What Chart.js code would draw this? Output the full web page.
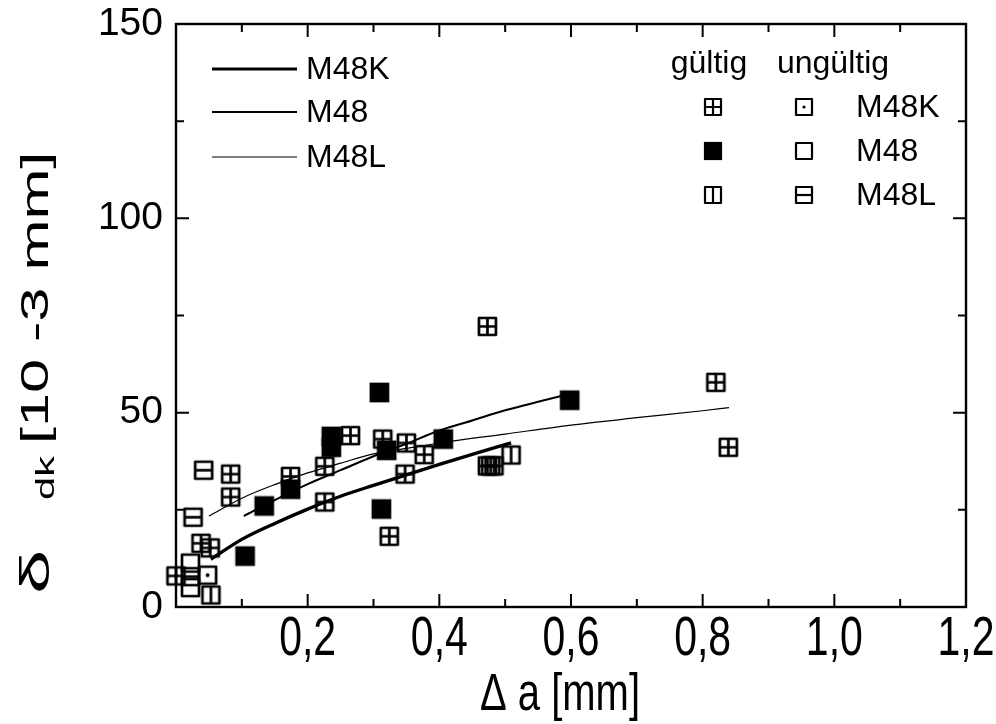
<!DOCTYPE html>
<html><head><meta charset="utf-8">
<script src="https://cdn.jsdelivr.net/npm/chart.js@4/dist/chart.umd.min.js"></script>
<style>html,body{margin:0;padding:0;background:#fff}#wrap{width:996px;height:724px}</style>
</head><body><div id="wrap"><canvas id="c" width="996" height="724"></canvas></div>
<script>
// ---- data ----
const xTickValues = [0.2, 0.4, 0.6, 0.8, 1.0, 1.2];
const xTickLabels = ["0,2", "0,4", "0,6", "0,8", "1,0", "1,2"];
const xMinorValues = [0.1, 0.3, 0.5, 0.7, 0.9, 1.1];
const yTickValues = [0, 50, 100, 150];
const yTickLabels = ["0", "50", "100", "150"];
const yMinorValues = [25, 75, 125];

// fitted curves
const curveM48K_x = [0.053, 0.10, 0.15, 0.20, 0.25, 0.30, 0.35, 0.40, 0.45, 0.509];
const curveM48K_y = [12.3, 17.4, 21.5, 25.2, 28.5, 31.3, 34.0, 36.7, 39.3, 42.2];
const curveM48_x = [0.103, 0.15, 0.20, 0.25, 0.30, 0.35, 0.40, 0.45, 0.50, 0.55, 0.598];
const curveM48_y = [23.4, 27.5, 31.6, 35.2, 38.8, 42.0, 45.4, 48.0, 50.6, 52.8, 54.8];
const curveM48L_x = [0.05, 0.10, 0.15, 0.20, 0.25, 0.30, 0.35, 0.40, 0.50, 0.60, 0.70, 0.80, 0.84];
const curveM48L_y = [23.4, 28.0, 31.5, 34.5, 37.0, 39.4, 40.8, 42.2, 44.5, 46.8, 48.7, 50.5, 51.3];

// measured points
const m48kValidX = [0.083, 0.083, 0.0, 0.038, 0.052, 0.174, 0.226, 0.226, 0.265, 0.314, 0.350, 0.377, 0.348, 0.324, 0.473, 0.473, 0.478, 0.483, 0.820, 0.839];
const m48kValidY = [34.2, 28.3, 8.0, 16.4, 15.2, 33.6, 36.2, 27.0, 44.1, 43.2, 42.2, 39.2, 34.2, 18.2, 72.2, 36.3, 36.3, 36.3, 57.8, 41.1];
const m48ValidX = [0.105, 0.134, 0.174, 0.236, 0.236, 0.309, 0.320, 0.312, 0.406, 0.598];
const m48ValidY = [13.1, 26.0, 30.3, 43.9, 41.1, 55.2, 40.3, 25.2, 43.2, 53.2];
const m48lValidX = [0.053, 0.509];
const m48lValidY = [3.1, 39.1];
const m48kInvalidX = [0.048];
const m48kInvalidY = [8.2];
const m48InvalidX = [0.022, 0.022];
const m48InvalidY = [11.3, 5.0];
const m48lInvalidX = [0.042, 0.026, 0.022];
const m48lInvalidY = [35.2, 23.1, 7.8];

const FONT = "'Liberation Sans', Arial, sans-serif";

// ---- marker images ----
function marker(type, s, lw) {
  const pad = Math.ceil(lw) + 1;
  const c = document.createElement('canvas');
  c.width = c.height = s + 2 * pad;
  const g = c.getContext('2d');
  g.strokeStyle = '#000'; g.fillStyle = '#000'; g.lineWidth = lw;
  g.lineJoin = 'round';
  const o = pad, m = pad + s / 2;
  if (type === 'filled') { g.fillRect(o - lw/2, o - lw/2, s + lw, s + lw); return c; }
  g.strokeRect(o, o, s, s);
  g.beginPath();
  if (type === 'cross' || type === 'vert') { g.moveTo(m, o); g.lineTo(m, o + s); }
  if (type === 'cross' || type === 'horiz') { g.moveTo(o, m); g.lineTo(o + s, m); }
  g.stroke();
  if (type === 'dot') { g.beginPath(); g.arc(m, m, lw * 0.7, 0, Math.PI * 2); g.fill(); }
  return c;
}
const MS = 17, MLW = 2.7;
const imgs = {
  cross: marker('cross', MS, MLW), filled: marker('filled', MS, MLW), vert: marker('vert', MS, MLW),
  dot: marker('dot', MS, MLW), empty: marker('empty', MS, MLW), horiz: marker('horiz', MS, MLW)
};
const LS = 16, LLW = 2.2;
const limgs = {
  cross: marker('cross', LS, LLW), filled: marker('filled', LS, LLW), vert: marker('vert', LS, LLW),
  dot: marker('dot', LS, LLW), empty: marker('empty', LS, LLW), horiz: marker('horiz', LS, LLW)
};

const zip = (xs, ys) => xs.map((x, i) => ({ x, y: ys[i] }));

function lineDs(xs, ys, w) {
  return { type: 'line', data: zip(xs, ys), borderColor: '#000', borderWidth: w, pointRadius: 0,
    fill: false, cubicInterpolationMode: 'monotone', clip: false, order: 2 };
}
function ptDs(xs, ys, img) {
  return { type: 'scatter', data: zip(xs, ys), pointStyle: img, pointRadius: 10, clip: false, order: 1,
    borderColor: '#000', backgroundColor: '#000' };
}

// ---- plugins ----
const framePlugin = {
  id: 'frame',
  afterDraw(chart) {
    const { ctx, chartArea: a, scales: { x, y } } = chart;
    ctx.save();
    ctx.strokeStyle = '#000'; ctx.lineWidth = 2.4; ctx.lineCap = 'square';
    ctx.strokeRect(a.left, a.top, a.right - a.left, a.bottom - a.top);
    ctx.lineWidth = 2;
    ctx.beginPath();
    const MAJ = 12, MIN = 7;
    xTickValues.concat([0]).forEach(v => { const p = x.getPixelForValue(v);
      ctx.moveTo(p, a.bottom); ctx.lineTo(p, a.bottom - MAJ); ctx.moveTo(p, a.top); ctx.lineTo(p, a.top + MAJ); });
    xMinorValues.forEach(v => { const p = x.getPixelForValue(v);
      ctx.moveTo(p, a.bottom); ctx.lineTo(p, a.bottom - MIN); ctx.moveTo(p, a.top); ctx.lineTo(p, a.top + MIN); });
    yTickValues.forEach(v => { const p = y.getPixelForValue(v);
      ctx.moveTo(a.left, p); ctx.lineTo(a.left + MAJ, p); ctx.moveTo(a.right, p); ctx.lineTo(a.right - MAJ, p); });
    yMinorValues.forEach(v => { const p = y.getPixelForValue(v);
      ctx.moveTo(a.left, p); ctx.lineTo(a.left + MIN, p); ctx.moveTo(a.right, p); ctx.lineTo(a.right - MIN, p); });
    ctx.stroke();

    // x tick labels (vertically stretched as in the original)
    ctx.fillStyle = '#000';
    ctx.font = '41px ' + FONT;
    ctx.textAlign = 'center'; ctx.textBaseline = 'middle';
    xTickValues.forEach((v, i) => {
      const p = x.getPixelForValue(v);
      ctx.save(); ctx.translate(p, 640); ctx.scale(1, 1.35); ctx.fillText(xTickLabels[i], 0, 0); ctx.restore();
    });
    // x title
    ctx.save(); ctx.translate(560, 696); ctx.scale(1, 1.3);
    ctx.font = '40px ' + FONT; ctx.fillText('\u0394 a [mm]', 0, 0); ctx.restore();

    // y title
    ctx.save(); ctx.translate(38, 594); ctx.rotate(-Math.PI / 2);
    ctx.textAlign = 'left'; ctx.textBaseline = 'middle';
    ctx.save(); ctx.scale(2.0, 1); ctx.font = '40px ' + FONT; ctx.fillText('\u03B4', 0, 0); ctx.restore();
    ctx.save(); ctx.translate(94, 0); ctx.scale(1.6, 1); ctx.font = '26px ' + FONT; ctx.fillText('dk', 0, 9); ctx.restore();
    ctx.save(); ctx.translate(150, 0); ctx.scale(1.61, 1); ctx.font = '38px ' + FONT; ctx.fillText('[10 -3 mm]', 0, 0); ctx.restore();
    ctx.restore();

    // left legend (lines)
    const LL = [['M48K', 69, 3.2], ['M48', 112, 2], ['M48L', 157, 1.2]];
    ctx.font = '32px ' + FONT; ctx.textAlign = 'left'; ctx.textBaseline = 'middle';
    LL.forEach(([t, yy, lw]) => {
      ctx.lineWidth = lw; ctx.lineCap = 'butt';
      ctx.beginPath(); ctx.moveTo(212, yy); ctx.lineTo(297, yy); ctx.stroke();
      ctx.fillText(t, 306, yy + 1);
    });
    // right legend (markers)
    ctx.textAlign = 'center';
    ctx.fillText('g\u00FCltig', 709, 64);
    ctx.fillText('ung\u00FCltig', 833, 64);
    ctx.textAlign = 'left';
    const RL = [['M48K', 107, 'cross', 'dot'], ['M48', 151, 'filled', 'empty'], ['M48L', 195, 'vert', 'horiz']];
    RL.forEach(([t, yy, a1, a2]) => {
      const i1 = limgs[a1], i2 = limgs[a2];
      ctx.drawImage(i1, 713 - i1.width / 2, yy - i1.height / 2);
      ctx.drawImage(i2, 804 - i2.width / 2, yy - i2.height / 2);
      ctx.fillText(t, 856, yy + 1);
    });
    ctx.restore();
  }
};

new Chart(document.getElementById('c'), {
  data: {
    datasets: [
      lineDs(curveM48K_x, curveM48K_y, 3.4),
      lineDs(curveM48_x, curveM48_y, 2.0),
      lineDs(curveM48L_x, curveM48L_y, 1.2),
      ptDs(m48kValidX, m48kValidY, imgs.cross),
      ptDs(m48ValidX, m48ValidY, imgs.filled),
      ptDs(m48lValidX, m48lValidY, imgs.vert),
      ptDs(m48kInvalidX, m48kInvalidY, imgs.dot),
      ptDs(m48InvalidX, m48InvalidY, imgs.empty),
      ptDs(m48lInvalidX, m48lInvalidY, imgs.horiz)
    ]
  },
  options: {
    responsive: false, animation: false, devicePixelRatio: 1,
    layout: { padding: { top: 24, right: 30, left: 0, bottom: 0 } },
    plugins: { legend: { display: false }, tooltip: { enabled: false } },
    scales: {
      x: { type: 'linear', min: 0, max: 1.2,
        afterBuildTicks: s => { s.ticks = xTickValues.map(v => ({ value: v })); },
        ticks: { display: false }, grid: { display: false }, border: { display: false },
        afterFit: s => { s.height = 117; s.paddingLeft = 0; s.paddingRight = 0; } },
      y: { type: 'linear', min: 0, max: 150,
        afterBuildTicks: s => { s.ticks = yTickValues.map(v => ({ value: v })); },
        ticks: { color: '#000', padding: 13, font: { family: FONT, size: 39 },
          callback: (v) => yTickLabels[yTickValues.indexOf(v)] },
        grid: { display: false, drawTicks: false }, border: { display: false },
        afterFit: s => { s.width = 176; s.paddingTop = 0; s.paddingBottom = 0; } }
    }
  },
  plugins: [framePlugin]
});
</script>
</body></html>
